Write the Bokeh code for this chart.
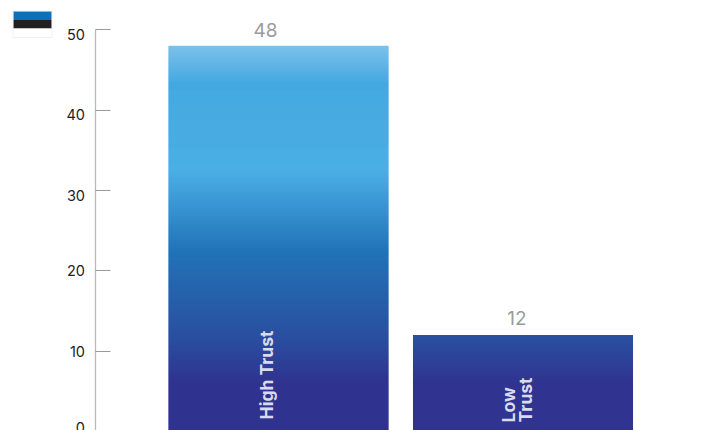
from bokeh.embed import file_html
from bokeh.resources import INLINE
from bokeh.plotting import figure
from bokeh.models import Range1d, LinearAxis, FixedTicker, CustomJSTickFormatter, BoxAnnotation
from bokeh.core.properties import value
import numpy as np
import math

categories = ["High\u00a0Trust", "Low\nTrust"]
values = [48, 12]
y_ticks = [0, 10, 20, 30, 40, 50]

# vertical fill of the bars: (axis value, colour)
STOPS = [(-1, "#303390"), (6, "#303390"), (12, "#2a50a0"), (22.5, "#2273b8"),
         (32.5, "#4bafe5"), (43.5, "#45a9e0"), (48, "#7cc1eb")]

W, H = 703, 430
PX_PER_Y = 8.033
PX_PER_X = 244.5
ZERO_Y = 430.9
BAR0_X = 278.0
AXIS_X = 95.0
# the reference's tick labels do not sit evenly against their ticks
LABEL_SHIFT = [-4, 0.5, 0, 5, 4.5, 5]

def to_rgb(h):
    return np.array([int(h[i:i + 2], 16) for i in (1, 3, 5)], float)

def shade(v):
    for (a, ca), (b, cb) in zip(STOPS, STOPS[1:]):
        if a <= v <= b:
            c = to_rgb(ca) + (to_rgb(cb) - to_rgb(ca)) * (v - a) / (b - a)
            return "#%02x%02x%02x" % tuple(int(round(k)) for k in c)
    return STOPS[-1][1]

x_start = -BAR0_X / PX_PER_X
x_end = x_start + W / PX_PER_X
y_start = (ZERO_Y - H) / PX_PER_Y
y_end = y_start + H / PX_PER_Y
axis_x = (AXIS_X - BAR0_X) / PX_PER_X

p = figure(width=W, height=H, output_backend="svg", toolbar_location=None,
           x_range=Range1d(x_start, x_end), y_range=Range1d(y_start, y_end),
           x_axis_location=None, y_axis_location=None, min_border=0)
p.grid.visible = False
p.outline_line_color = None
p.background_fill_color = "white"
p.border_fill_color = "white"

axis = LinearAxis(fixed_location=axis_x, ticker=FixedTicker(ticks=y_ticks),
                  formatter=CustomJSTickFormatter(code="return ''"))
axis.bounds = (0, 50)
axis.axis_line_color = "#b9b9b9"
axis.axis_line_width = 1.3
axis.major_tick_line_color = "#9a9a9a"
axis.major_tick_line_width = 1
axis.major_tick_in = 15
axis.major_tick_out = 0
axis.minor_tick_line_color = None
p.add_layout(axis, "left")

# bars: thin slices, each slightly overlapping the next to hide seams
step = 1 / PX_PER_Y
for i, v in enumerate(values):
    tops = [v - k * step for k in range(int(v / step) + 1)]
    p.vbar(x=[i] * len(tops), width=0.9, bottom=[t - 1.5 * step for t in tops], top=tops,
           fill_color=[shade(t) for t in tops], line_color=None)

# y tick labels
p.text(x=[axis_x] * len(y_ticks), y=y_ticks, text=[str(t) for t in y_ticks],
       x_offset=-10.5, y_offset=LABEL_SHIFT, text_align="right", text_baseline="middle",
       text_font=value("Inter"), text_font_size="14.5px", text_color="#222222")

# value labels
p.text(x=[0], y=[values[0]], text=[str(values[0])], x_offset=-13, y_offset=-9,
       text_align="center", text_baseline="bottom", text_font=value("Inter"),
       text_font_size="19px", text_color="#9b9b9b")
p.text(x=[1], y=[values[1]], text=[str(values[1])], x_offset=-6, y_offset=-10,
       text_align="center", text_baseline="bottom", text_font=value("Inter"),
       text_font_size="19px", text_color="#9b9b9b")

# category labels inside the bars
p.text(x=[0], y=[0], text=[categories[0]], x_offset=-12, y_offset=-12, angle=math.pi / 2,
       text_align="left", text_baseline="middle", text_font=value("Inter"),
       text_font_style="bold", text_font_size="17.5px", text_color="#d8dbec")
p.text(x=[1], y=[0], text=[categories[1]], x_offset=-6, y_offset=-9, angle=math.pi / 2,
       text_align="left", text_baseline="middle", text_font=value("Inter"),
       text_font_style="bold", text_font_size="17.5px", text_color="#d8dbec",
       text_line_height=0.85)

# flag: screen-unit boxes, measured from the canvas bottom
def box(l, r, t, b, **kw):
    p.add_layout(BoxAnnotation(left=l, right=r, top=H - t, bottom=H - b,
                               left_units="screen", right_units="screen",
                               top_units="screen", bottom_units="screen", **kw))

for t, b, colour in [(11, 19.5, "#0a72ba"), (19.5, 28, "#231f20"), (28, 37, "#ffffff")]:
    box(13, 51, t, b, fill_color=colour, fill_alpha=1, line_color=None)
box(12.5, 51.5, 10.5, 37, fill_alpha=0, line_color="#cccccc", line_width=1)

open("out.html", "w").write(file_html(p, INLINE))
